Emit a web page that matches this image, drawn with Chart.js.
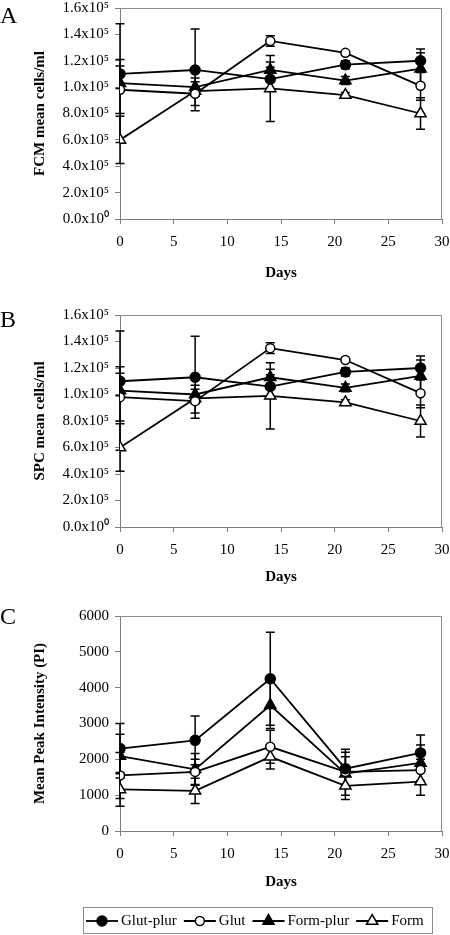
<!DOCTYPE html>
<html>
<head>
<meta charset="utf-8">
<script src="https://cdn.jsdelivr.net/npm/chart.js@4.4.1/dist/chart.umd.min.js"></script>
<style>
  body { margin: 0; background: #fff; width: 450px; height: 935px; position: relative; overflow: hidden; }
  canvas { position: absolute; left: 0; }
  .letter { position: absolute; left: 0; font: 24px 'Liberation Serif', 'Times New Roman', serif; line-height: 1; color: #000; }
</style>
</head>
<body>
<canvas id="chartA" width="450" height="290" style="top:0"></canvas>
<canvas id="chartB" width="450" height="290" style="top:300px"></canvas>
<canvas id="chartC" width="450" height="335" style="top:600px"></canvas>
<div class="letter" style="top:3px">A</div>
<div class="letter" style="top:307px">B</div>
<div class="letter" style="top:604px">C</div>
<script>
// ===== Data =====
const days = [0, 7, 14, 21, 28];
const seriesNames = ["Glut-plur", "Glut", "Form-plur", "Form"];

// A: FCM mean cells/ml
const fcmGlutPlur = [110000, 113000, 106000, 117000, 120000];
const fcmGlut = [98000, 95000, 135000, 126000, 101000];
const fcmFormPlur = [103000, 100000, 113000, 105000, 114000];
const fcmForm = [60000, 97000, 99000, 94000, 80000];
const fcmGlutPlurErr = [11000, 31000, 9000, 3000, 9000];
const fcmGlutErr = [18000, 9000, 4000, 1000, 11000];
const fcmFormPlurErr = [45000, 7000, 6000, 3000, 12000];
const fcmFormErr = [18000, 3000, 25000, 2000, 12000];

// B: SPC mean cells/ml
const spcGlutPlur = [110000, 113000, 106000, 117000, 120000];
const spcGlut = [98000, 95000, 135000, 126000, 101000];
const spcFormPlur = [103000, 100000, 113000, 105000, 114000];
const spcForm = [60000, 97000, 99000, 94000, 80000];
const spcGlutPlurErr = [11000, 31000, 9000, 3000, 9000];
const spcGlutErr = [18000, 9000, 4000, 1000, 11000];
const spcFormPlurErr = [45000, 7000, 6000, 3000, 12000];
const spcFormErr = [18000, 3000, 25000, 2000, 12000];

// C: Mean peak intensity (PI)
const piGlutPlur = [2300, 2530, 4250, 1740, 2180];
const piGlut = [1550, 1650, 2350, 1650, 1700];
const piFormPlur = [2090, 1720, 3510, 1600, 1900];
const piForm = [1160, 1120, 2070, 1260, 1380];
const piGlutPlurErr = [700, 680, 1300, 540, 500];
const piGlutErr = [640, 350, 460, 420, 300];
const piFormPlurErr = [610, 440, 650, 600, 500];
const piFormErr = [470, 350, 340, 380, 380];

// y tick labels of A and B (as printed in the figure)
const cellTickLabels = ["0.0x10\u2070", "2.0x10\u2075", "4.0x10\u2075", "6.0x10\u2075", "8.0x10\u2075",
                        "1.0x10\u2075", "1.2x10\u2075", "1.4x10\u2075", "1.6x10\u2075"];

// ===== Styles =====
const markerStyles = [
  { pointStyle: "circle", radius: 5, fill: "#000" },
  { pointStyle: "circle", radius: 4.5, fill: "#fff" },
  { pointStyle: "triangle", radius: 6.5, fill: "#000" },
  { pointStyle: "triangle", radius: 6.5, fill: "#fff" }
];

Chart.defaults.font.family = "'Liberation Serif', 'Times New Roman', serif";
Chart.defaults.font.size = 15;
Chart.defaults.color = "#000";

function makeDatasets(valueSets, errorSets) {
  return valueSets.map((vals, k) => ({
    label: seriesNames[k],
    data: days.map((d, i) => ({ x: d, y: vals[i] })),
    errors: errorSets[k],
    borderColor: "#000",
    borderWidth: 1.8,
    pointStyle: markerStyles[k].pointStyle,
    pointRadius: markerStyles[k].radius,
    pointBackgroundColor: markerStyles[k].fill,
    pointBorderColor: "#000",
    pointBorderWidth: 1.5,
    tension: 0
  }));
}

// ===== Plugins =====
const errorBars = {
  id: "errorBars",
  beforeDatasetsDraw(chart) {
    const { ctx, scales: { x, y } } = chart;
    ctx.save();
    ctx.strokeStyle = "#000";
    ctx.lineWidth = 1.5;
    chart.data.datasets.forEach(ds => {
      ds.data.forEach((p, i) => {
        const px = x.getPixelForValue(p.x);
        const hi = y.getPixelForValue(p.y + ds.errors[i]);
        const lo = y.getPixelForValue(p.y - ds.errors[i]);
        ctx.beginPath();
        ctx.moveTo(px, hi); ctx.lineTo(px, lo);
        ctx.moveTo(px - 4.5, hi); ctx.lineTo(px + 4.5, hi);
        ctx.moveTo(px - 4.5, lo); ctx.lineTo(px + 4.5, lo);
        ctx.stroke();
      });
    });
    ctx.restore();
  }
};

const frame = {
  id: "frame",
  beforeDatasetsDraw(chart) {
    const { ctx, chartArea: a } = chart;
    ctx.save();
    ctx.strokeStyle = "#8c8c8c";
    ctx.lineWidth = 1;
    ctx.beginPath();
    ctx.moveTo(a.left, a.top + 0.5);
    ctx.lineTo(a.right - 0.5, a.top + 0.5);
    ctx.lineTo(a.right - 0.5, a.bottom);
    ctx.stroke();
    ctx.restore();
  }
};

const boxLegend = {
  id: "boxLegend",
  afterDraw(chart) {
    const ctx = chart.ctx;
    const top = 307, h = 26, left = 83, right = 432;
    const cy = top + h / 2 + 1;
    ctx.save();
    ctx.strokeStyle = "#8c8c8c";
    ctx.lineWidth = 1;
    ctx.strokeRect(left + 0.5, top + 0.5, right - left, h);
    ctx.font = "15px 'Liberation Serif', 'Times New Roman', serif";
    ctx.textBaseline = "middle";
    let x = left + 3;
    chart.data.datasets.forEach((ds, k) => {
      ctx.strokeStyle = "#000";
      ctx.lineWidth = 1.8;
      ctx.beginPath();
      ctx.moveTo(x, cy); ctx.lineTo(x + 32, cy);
      ctx.stroke();
      ctx.fillStyle = markerStyles[k].fill;
      ctx.lineWidth = 1.5;
      Chart.helpers.drawPoint(ctx, { pointStyle: markerStyles[k].pointStyle, radius: markerStyles[k].radius, borderWidth: 1.5, rotation: 0 }, x + 16, cy);
      ctx.fillStyle = "#000";
      ctx.fillText(ds.label, x + 35, cy);
      x += 35 + ctx.measureText(ds.label).width + 7;
    });
    ctx.restore();
  }
};

// ===== Chart builder =====
function makeChart(id, datasets, yOpts, layout, plugins) {
  const axisGray = "#7f7f7f";
  return new Chart(document.getElementById(id), {
    type: "line",
    data: { datasets },
    options: {
      responsive: false,
      animation: false,
      devicePixelRatio: 1,
      layout: { padding: layout.padding },
      plugins: { legend: { display: false }, tooltip: { enabled: false } },
      scales: {
        x: {
          type: "linear", min: 0, max: 30,
          ticks: { stepSize: 5, padding: 9 },
          grid: { drawOnChartArea: false, tickLength: 5, color: axisGray },
          border: { color: axisGray },
          title: { display: true, text: "Days", font: { size: 15, weight: "bold" }, padding: { top: 0, bottom: layout.daysPad } },
          afterFit: s => { s.height = layout.xHeight; s.paddingLeft = 0; s.paddingRight = 0; }
        },
        y: {
          min: yOpts.min, max: yOpts.max,
          ticks: { stepSize: yOpts.step, padding: 6, callback: yOpts.callback },
          grid: { drawOnChartArea: false, tickLength: 5, color: axisGray },
          border: { color: axisGray },
          title: { display: true, text: yOpts.title, font: { size: 15, weight: "bold" }, padding: { top: 31, bottom: 0 } },
          afterFit: s => { s.width = 120; s.paddingTop = 0; s.paddingBottom = 0; }
        }
      }
    },
    plugins
  });
}

const cellAxis = title => ({
  min: 0, max: 160000, step: 20000, title,
  callback: v => cellTickLabels[Math.round(v / 20000)]
});

makeChart("chartA",
  makeDatasets([fcmGlutPlur, fcmGlut, fcmFormPlur, fcmForm], [fcmGlutPlurErr, fcmGlutErr, fcmFormPlurErr, fcmFormErr]),
  cellAxis("FCM mean cells/ml"),
  { padding: { top: 7, right: 8, bottom: 0, left: 0 }, xHeight: 71, daysPad: 8 },
  [frame, errorBars]);

makeChart("chartB",
  makeDatasets([spcGlutPlur, spcGlut, spcFormPlur, spcForm], [spcGlutPlurErr, spcGlutErr, spcFormPlurErr, spcFormErr]),
  cellAxis("SPC mean cells/ml"),
  { padding: { top: 15, right: 8, bottom: 0, left: 0 }, xHeight: 63, daysPad: 4 },
  [frame, errorBars]);

makeChart("chartC",
  makeDatasets([piGlutPlur, piGlut, piFormPlur, piForm], [piGlutPlurErr, piGlutErr, piFormPlurErr, piFormErr]),
  { min: 0, max: 6000, step: 1000, title: "Mean Peak Intensity (PI)", callback: v => String(v) },
  { padding: { top: 16, right: 8, bottom: 40, left: 0 }, xHeight: 64, daysPad: 4 },
  [frame, errorBars, boxLegend]);
</script>
</body>
</html>
